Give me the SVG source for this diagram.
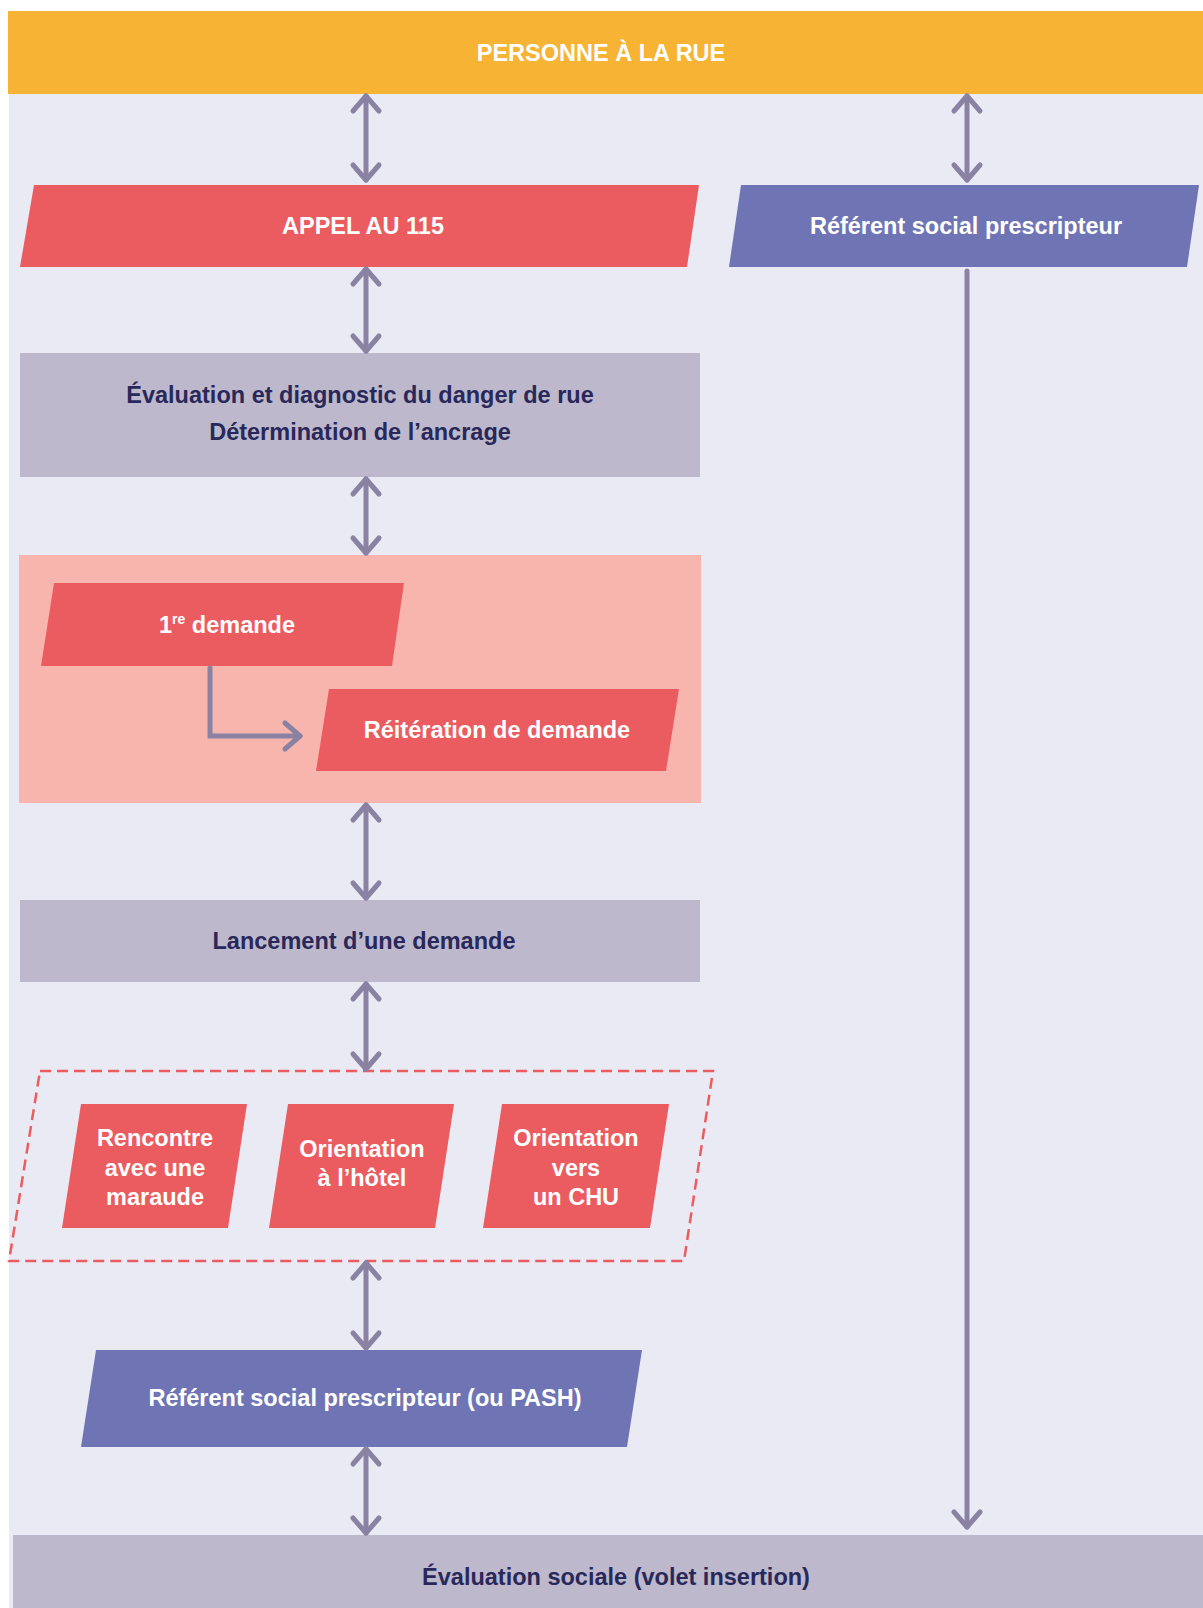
<svg xmlns="http://www.w3.org/2000/svg" width="1203" height="1608" viewBox="0 0 1203 1608">
<defs>
<marker id="ah" markerUnits="userSpaceOnUse" viewBox="-20 -20 40 40" markerWidth="40" markerHeight="40" refX="0" refY="0" orient="auto-start-reverse" overflow="visible">
<path d="M-15 -13 L0 0 L-15 13" fill="none" stroke="#8A82A3" stroke-width="5" stroke-linecap="round" stroke-linejoin="round"/>
</marker>
</defs>
<style>
text{font-family:"Liberation Sans",Arial,sans-serif;font-weight:bold;text-anchor:middle;font-size:23.5px}
.w{fill:#FFFFFF}
.d{fill:#29285A}
.red{fill:#EB5C60}
.blue{fill:#6F75B4}
.grey{fill:#BDB8CB}
.conn{stroke:#8A82A3;stroke-width:5;stroke-linecap:round;fill:none}
</style>
<rect x="0" y="0" width="1203" height="1608" fill="#FFFFFF"/>
<rect x="9" y="92" width="1194" height="1516" fill="#EAEAF4"/>

<g id="personne">
<rect x="8" y="11" width="1195" height="83" fill="#F7B334"/>
<text class="w" x="601" y="61">PERSONNE À LA RUE</text>
</g>

<g id="appel">
<polygon class="red" points="34,185 699,185 687,267 20,267"/>
<text class="w" x="363" y="234">APPEL AU 115</text>
</g>

<g id="referent1">
<polygon class="blue" points="741,185 1199,185 1187,267 729,267"/>
<text class="w" x="966" y="234">Référent social prescripteur</text>
</g>

<g id="evaluation">
<rect class="grey" x="20" y="353" width="680" height="124"/>
<text class="d" x="360" y="403">Évaluation et diagnostic du danger de rue</text>
<text class="d" x="360" y="440">Détermination de l’ancrage</text>
</g>

<g id="demandes">
<rect x="19" y="555" width="682" height="248" fill="#F7B5AE"/>
<g id="premiere">
<polygon class="red" points="54,583 404,583 392,666 41,666"/>
<text class="w" x="227" y="633">1<tspan font-size="14" dy="-9">re</tspan><tspan dy="9"> demande</tspan></text>
</g>
<g id="reiteration">
<polygon class="red" points="329,689 679,689 666,771 316,771"/>
<text class="w" x="497" y="738">Réitération de demande</text>
</g>
</g>

<g id="lancement">
<rect class="grey" x="20" y="900" width="680" height="82"/>
<text class="d" x="364" y="949">Lancement d’une demande</text>
</g>

<g id="options">
<polygon points="40,1071 713,1071 684,1261 9,1261" fill="none" stroke="#EB5C60" stroke-width="2.5" stroke-dasharray="11,6"/>
<g id="maraude">
<polygon class="red" points="81,1104 247,1104 228,1228 62,1228"/>
<text class="w" x="155" y="1146">Rencontre</text>
<text class="w" x="155" y="1176">avec une</text>
<text class="w" x="155" y="1205">maraude</text>
</g>
<g id="hotel">
<polygon class="red" points="288,1104 454,1104 435,1228 269,1228"/>
<text class="w" x="362" y="1157">Orientation</text>
<text class="w" x="362" y="1186">à l’hôtel</text>
</g>
<g id="chu">
<polygon class="red" points="502,1104 669,1104 650,1228 483,1228"/>
<text class="w" x="576" y="1146">Orientation</text>
<text class="w" x="576" y="1176">vers</text>
<text class="w" x="576" y="1205">un CHU</text>
</g>
</g>

<g id="referent2">
<polygon class="blue" points="96,1350 642,1350 627,1447 81,1447"/>
<text class="w" x="365" y="1406">Référent social prescripteur (ou PASH)</text>
</g>

<g id="evalsociale">
<rect class="grey" x="13" y="1535" width="1190" height="73"/>
<text class="d" x="616" y="1585">Évaluation sociale (volet insertion)</text>
</g>

<g id="connectors">
<line class="conn" x1="366" y1="96" x2="366" y2="180" marker-start="url(#ah)" marker-end="url(#ah)"/>
<line class="conn" x1="967" y1="96" x2="967" y2="180" marker-start="url(#ah)" marker-end="url(#ah)"/>
<line class="conn" x1="366" y1="269" x2="366" y2="351" marker-start="url(#ah)" marker-end="url(#ah)"/>
<line class="conn" x1="366" y1="479" x2="366" y2="553" marker-start="url(#ah)" marker-end="url(#ah)"/>
<line class="conn" x1="366" y1="805" x2="366" y2="898" marker-start="url(#ah)" marker-end="url(#ah)"/>
<line class="conn" x1="366" y1="984" x2="366" y2="1069" marker-start="url(#ah)" marker-end="url(#ah)"/>
<line class="conn" x1="366" y1="1263" x2="366" y2="1348" marker-start="url(#ah)" marker-end="url(#ah)"/>
<line class="conn" x1="366" y1="1449" x2="366" y2="1533" marker-start="url(#ah)" marker-end="url(#ah)"/>
<line class="conn" x1="967" y1="271" x2="967" y2="1527" marker-end="url(#ah)"/>
<path class="conn" d="M210 668 V736 H300" stroke-linecap="butt" marker-end="url(#ah)"/>
</g>
</svg>
